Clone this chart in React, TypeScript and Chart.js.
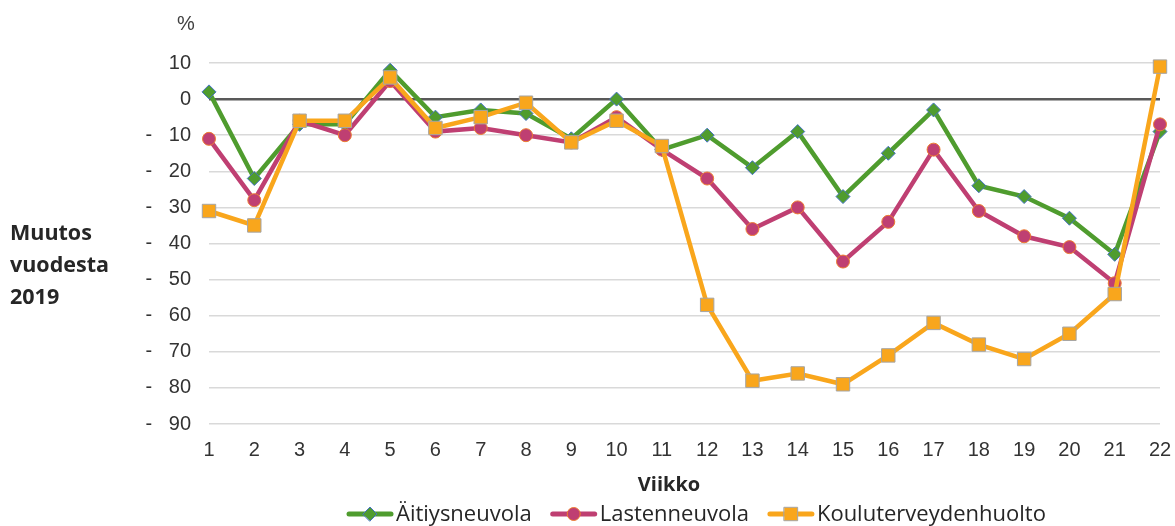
import React, { useEffect, useRef } from "react";
import { Chart, registerables } from "chart.js";

Chart.register(...registerables);

const weeks = ["1","2","3","4","5","6","7","8","9","10","11","12","13","14","15","16","17","18","19","20","21","22"];
const aitiysneuvola = [2,-22,-7,-7,8,-5,-3,-4,-11,0,-14,-10,-19,-9,-27,-15,-3,-24,-27,-33,-43,-9];
const lastenneuvola = [-11,-28,-6,-10,5,-9,-8,-10,-12,-5,-14,-22,-36,-30,-45,-34,-14,-31,-38,-41,-51,-7];
const kouluterveydenhuolto = [-31,-35,-6,-6,6,-8,-5,-1,-12,-6,-13,-57,-78,-76,-79,-71,-62,-68,-72,-65,-54,9];
const seriesNames = ["Äitiysneuvola", "Lastenneuvola", "Kouluterveydenhuolto"];
const yMin = -90;
const yMax = 10;
const yStep = 10;
const yUnit = "%";
const yTitle = ["Muutos", "vuodesta", "2019"];
const xTitle = "Viikko";

const GREEN = "#4F9C2E";
const PINK = "#BF3F72";
const ORANGE = "#F9A61C";

function drawMarker(ctx: CanvasRenderingContext2D, style: string, x: number, y: number, r: number, fill: string, stroke: string) {
  ctx.save();
  ctx.fillStyle = fill;
  ctx.strokeStyle = stroke;
  ctx.lineWidth = 1;
  ctx.beginPath();
  if (style === "rectRot") {
    ctx.moveTo(x - r, y);
    ctx.lineTo(x, y - r);
    ctx.lineTo(x + r, y);
    ctx.lineTo(x, y + r);
    ctx.closePath();
  } else if (style === "circle") {
    ctx.arc(x, y, r, 0, Math.PI * 2);
  } else {
    const s = r * Math.SQRT1_2;
    ctx.rect(x - s, y - s, 2 * s, 2 * s);
  }
  ctx.fill();
  ctx.stroke();
  ctx.restore();
}

export default function App() {
  const canvasRef = useRef<HTMLCanvasElement | null>(null);

  useEffect(() => {
    if (!canvasRef.current) return;
    const markerInfo = [
      { style: "rectRot", r: 7, fill: GREEN, stroke: "#4472C4", color: GREEN },
      { style: "circle", r: 6.5, fill: PINK, stroke: "#ED7D31", color: PINK },
      { style: "rect", r: 9.5, fill: ORANGE, stroke: "#A5A5A5", color: ORANGE },
    ];

    const textPlugin = {
      id: "customText",
      afterDraw(chart: any) {
        const ctx = chart.ctx as CanvasRenderingContext2D;
        ctx.save();
        // unit label
        ctx.fillStyle = "#404040";
        ctx.font = "20px 'Liberation Sans', Arial, sans-serif";
        ctx.textAlign = "center";
        ctx.textBaseline = "middle";
        ctx.fillText(yUnit, 186, 24);
        // y title
        ctx.fillStyle = "#262626";
        ctx.font = "bold 21.5px 'Open Sans', sans-serif";
        ctx.textAlign = "left";
        ctx.textBaseline = "alphabetic";
        yTitle.forEach((t, i) => ctx.fillText(t, 10, 240 + i * 32));
        // x title
        ctx.font = "bold 20px 'Open Sans', sans-serif";
        ctx.textAlign = "center";
        ctx.fillText(xTitle, 669, 491);
        // legend
        ctx.font = "22px 'Open Sans', sans-serif";
        ctx.textAlign = "left";
        ctx.textBaseline = "middle";
        let x = 347;
        const y = 514;
        seriesNames.forEach((name, i) => {
          const m = markerInfo[i];
          ctx.strokeStyle = m.color;
          ctx.lineWidth = 5;
          ctx.lineCap = "round";
          ctx.beginPath();
          ctx.moveTo(x + 2, y);
          ctx.lineTo(x + 44, y);
          ctx.stroke();
          drawMarker(ctx, m.style, x + 23, y, m.r, m.fill, m.stroke);
          ctx.fillStyle = "#262626";
          ctx.fillText(name, x + 49, y + 1);
          x += 49 + ctx.measureText(name).width + 19;
        });
        ctx.restore();
      },
    };

    const chart = new Chart(canvasRef.current, {
      type: "line",
      data: {
        labels: weeks,
        datasets: [
          {
            label: seriesNames[0],
            data: aitiysneuvola,
            borderColor: GREEN,
            backgroundColor: GREEN,
            borderWidth: 4.5,
            pointStyle: "rectRot",
            pointRadius: 7,
            pointBackgroundColor: GREEN,
            pointBorderColor: "#4472C4",
            pointBorderWidth: 1,
            tension: 0,
            order: 2,
          },
          {
            label: seriesNames[1],
            data: lastenneuvola,
            borderColor: PINK,
            backgroundColor: PINK,
            borderWidth: 4.5,
            pointStyle: "circle",
            pointRadius: 6.5,
            pointBackgroundColor: PINK,
            pointBorderColor: "#ED7D31",
            pointBorderWidth: 1,
            tension: 0,
            order: 1,
          },
          {
            label: seriesNames[2],
            data: kouluterveydenhuolto,
            borderColor: ORANGE,
            backgroundColor: ORANGE,
            borderWidth: 4.5,
            pointStyle: "rect",
            pointRadius: 9.5,
            pointBackgroundColor: ORANGE,
            pointBorderColor: "#A5A5A5",
            pointBorderWidth: 1,
            tension: 0,
            order: 0,
          },
        ],
      },
      options: {
        responsive: false,
        animation: false,
        clip: false,
        layout: { padding: { top: 63, right: 15, left: 0, bottom: 0 } },
        plugins: {
          legend: { display: false },
          tooltip: { enabled: false },
          title: { display: false },
        },
        scales: {
          x: {
            type: "category",
            offset: false,
            grid: { display: false, drawTicks: false },
            border: { display: false },
            ticks: {
              color: "#333333",
              font: { family: "'Liberation Sans', Arial, sans-serif", size: 20 },
              padding: 14,
              maxRotation: 0,
              autoSkip: false,
            },
            afterFit: (scale: any) => {
              scale.height = 102;
              scale.paddingLeft = 0;
              scale.paddingRight = 0;
            },
          },
          y: {
            min: yMin,
            max: yMax,
            grid: {
              drawTicks: false,
              color: (c: any) => (c.tick && c.tick.value === 0 ? "#595959" : "#D9D9D9"),
              lineWidth: (c: any) => (c.tick && c.tick.value === 0 ? 2.5 : 1.5),
            },
            border: { display: false },
            ticks: {
              stepSize: yStep,
              color: "#333333",
              font: { family: "'Liberation Sans', Arial, sans-serif", size: 20 },
              padding: 18,
              callback: (v: any) => {
                const n = Number(v);
                return n < 0 ? "-   " + Math.abs(n) : String(n);
              },
            },
            afterFit: (scale: any) => {
              scale.width = 209;
              scale.paddingTop = 0;
              scale.paddingBottom = 0;
            },
          },
        },
      } as any,
      plugins: [textPlugin],
    });
    return () => chart.destroy();
  }, []);

  return (
    <div style={{ position: "fixed", left: 0, top: 0, width: 1175, height: 526, background: "#fff" }}>
      <canvas ref={canvasRef} width={1175} height={526} style={{ display: "block" }} />
    </div>
  );
}
